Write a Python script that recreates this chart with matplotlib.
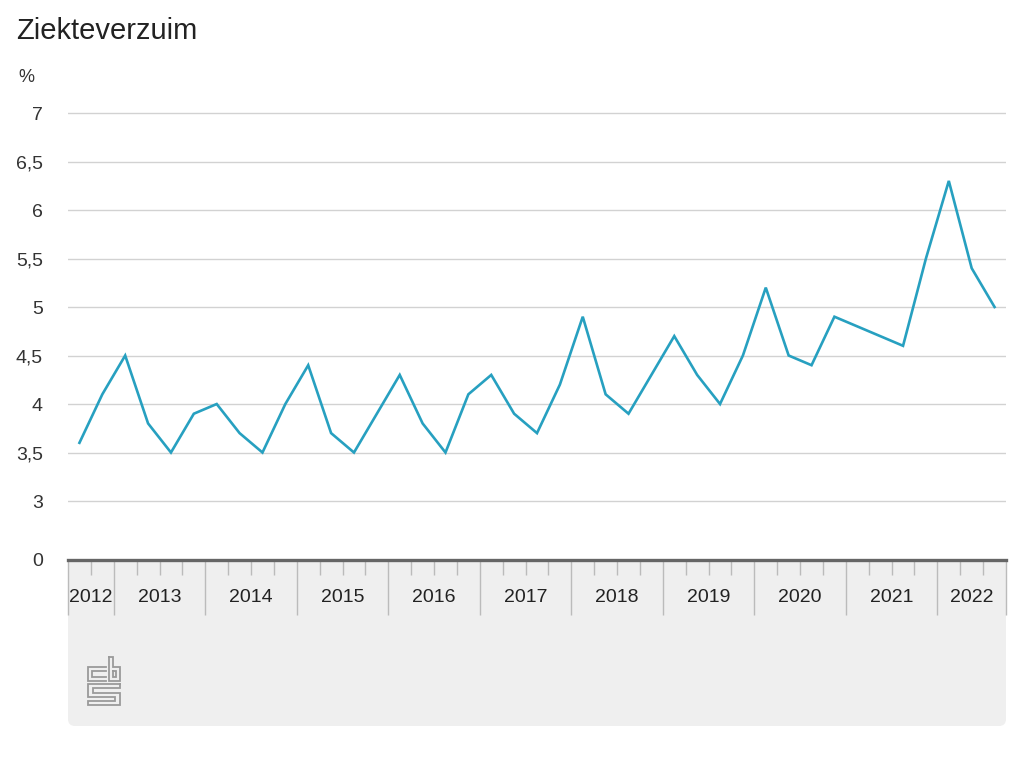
import numpy as np
import matplotlib
matplotlib.use("Agg")
import matplotlib.pyplot as plt
from matplotlib.patches import FancyBboxPatch, Rectangle
from matplotlib.transforms import Affine2D

plt.rcParams['font.family'] = ['Liberation Sans', 'DejaVu Sans']

# Ziekteverzuim per kwartaal, 2012 K3 t/m 2022 K3 (%)
year_labels = ['2012', '2013', '2014', '2015', '2016', '2017',
               '2018', '2019', '2020', '2021', '2022']
quarters_per_year = [2, 4, 4, 4, 4, 4, 4, 4, 4, 4, 3]
verzuim = [3.6, 4.1,
           4.5, 3.8, 3.5, 3.9,
           4.0, 3.7, 3.5, 4.0,
           4.4, 3.7, 3.5, 3.9,
           4.3, 3.8, 3.5, 4.1,
           4.3, 3.9, 3.7, 4.2,
           4.9, 4.1, 3.9, 4.3,
           4.7, 4.3, 4.0, 4.5,
           5.2, 4.5, 4.4, 4.9,
           4.8, 4.7, 4.6, 5.5,
           6.3, 5.4, 5.0]
ytick_vals = [3, 3.5, 4, 4.5, 5, 5.5, 6, 6.5, 7]
ytick_labels = ['3', '3,5', '4', '4,5', '5', '5,5', '6', '6,5', '7']
y_break = 2.392  # value where the "0" baseline sits (broken axis)

W, H = 1024, 768
fig = plt.figure(figsize=(W / 100, H / 100), dpi=100)
pix = Affine2D().scale(1 / W, -1 / H).translate(0, 1) + fig.transFigure

# grey panel under the x axis
panel = FancyBboxPatch((68, 566), 938, 160, boxstyle="round,pad=0,rounding_size=7",
                       transform=pix, facecolor='#efefef', edgecolor='none', zorder=0)
fig.patches.append(panel)
fig.patches.append(Rectangle((68, 560), 938, 20, transform=pix,
                             facecolor='#efefef', edgecolor='none', zorder=0))

# cbs logo (rough outline)
logo_paths = [
    [(106, 667), (88, 667), (88, 681), (106, 681)],
    [(106, 671), (92, 671), (92, 677), (106, 677)],
    [(109, 657), (109, 681), (120, 681), (120, 667), (113, 667), (113, 657), (109, 657)],
    [(113, 671), (116, 671), (116, 677), (113, 677), (113, 671)],
    [(120, 684), (88, 684), (88, 697), (115, 697), (115, 701), (88, 701), (88, 705),
     (120, 705), (120, 693), (93, 693), (93, 688), (120, 688), (120, 684)],
]
for p in logo_paths:
    xs, ys = zip(*p)
    fig.lines.append(plt.Line2D(xs, ys, transform=pix, color='#9a9a9a', lw=1.3,
                                solid_joinstyle='miter'))

ax_top = 108
ax = fig.add_axes([68 / W, 1 - 560 / H, 938 / W, (560 - ax_top) / H])
ax.set_facecolor('none')
ax.set_zorder(2)

x = np.arange(len(verzuim))
ax.plot(x, verzuim, color='#27a0c0', lw=1.9, zorder=3, solid_joinstyle='miter')

for v in ytick_vals:
    ax.axhline(v, color='#d2d2d2', lw=1.0, zorder=1)

ax.set_xlim(-0.5, len(verzuim) - 0.5)
ax.set_ylim(y_break, 7 + (ax_top - 113) / -97)
ax.set_yticks([y_break] + ytick_vals)
ax.set_yticklabels(['0'] + ytick_labels)
ax.tick_params(axis='y', length=0, pad=18, labelsize=14, labelcolor='#333333')

for s in ['top', 'right', 'left']:
    ax.spines[s].set_visible(False)
ax.spines['bottom'].set_color('#666666')
ax.spines['bottom'].set_linewidth(2.4)

# quarter and year boundaries
bounds = np.cumsum([0] + quarters_per_year) - 0.5
quarter_ticks = [b for b in np.arange(-0.5, len(verzuim), 1.0) if b not in bounds]
ax.set_xticks([])
ax.set_xticks(quarter_ticks, minor=True)
ax.tick_params(axis='x', which='minor', length=11, width=1, color='#bbbbbb',
               direction='out')
axh = 560 - ax_top
ax.vlines(bounds, -55 / axh, 0, transform=ax.get_xaxis_transform(),
          color='#bbbbbb', lw=1, clip_on=False)
for i, lab in enumerate(year_labels):
    cx = (bounds[i] + bounds[i + 1]) / 2
    ax.text(cx, -38 / axh, lab, transform=ax.get_xaxis_transform(),
            ha='center', va='center', fontsize=14, color='#222222')

fig.text(16 / W, 1 - 39 / H, 'Ziekteverzuim', fontsize=21, color='#222222',
         va='baseline', ha='left')
fig.text(18 / W, 1 - 82 / H, '%', fontsize=13, color='#333333',
         va='baseline', ha='left')

fig.savefig('out.png', dpi=100)
